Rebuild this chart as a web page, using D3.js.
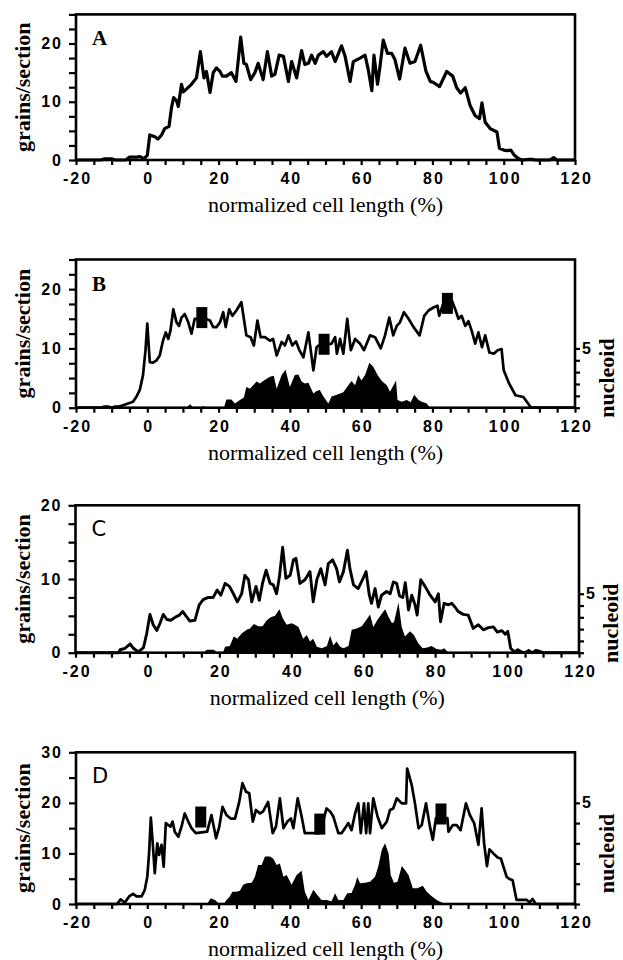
<!DOCTYPE html>
<html lang="en">
<head>
<meta charset="UTF-8">
<title>Grains per section along normalized cell length</title>
<script src="https://d3js.org/d3.v7.min.js"></script>
<style>
  body { margin: 0; background: #fff; }
  svg { display: block; }
  .tick text { font-family: 'Liberation Sans', Arial, sans-serif; font-weight: bold; font-size: 16px; letter-spacing: 2px; fill: #000; }
  .tick line { stroke: #000; stroke-width: 2.2; }
  .x-title { font-family: 'Liberation Serif', 'Times New Roman', serif; font-size: 22px; fill: #000; }
  .y-title { font-family: 'Liberation Serif', 'Times New Roman', serif; font-weight: bold; font-size: 22px; fill: #000; }
  .letter-serif { font-family: 'Liberation Serif', serif; font-weight: bold; font-size: 21px; }
  .letter-sans { font-family: 'DejaVu Sans', sans-serif; font-size: 21px; }
</style>
</head>
<body>
<svg id="chart" width="623" height="960"></svg>
<script>
// x ticks (normalized cell length, %)
const xTickLabels = [-20, 0, 20, 40, 60, 80, 100, 120];

// grains/section curves, [x %, grains]
const aGrains = [[-20,0],[-13,0],[-12,0.2],[-10,0.2],[-9,0],[-6,0],[-5,0.5],[-3,0.5],[-2,0.6],[-1,0.2],[0,0.8],[0.7,4.3],[2.1,4.0],[3,3.6],[4,4.3],[4.9,5.4],[6.1,5.8],[6.8,9.0],[7.4,10.7],[8.2,10.2],[8.7,9.2],[9.6,13.0],[10.1,11.7],[11.2,12.3],[12.4,13.0],[13.8,14.1],[14.9,18.6],[15.9,14.1],[16.6,15.2],[17.6,11.6],[18.5,15.0],[19.4,15.8],[20.4,15.2],[21.1,14.4],[22.2,14.4],[23.6,15.0],[24.9,13.5],[26.2,21.1],[27.1,16.6],[27.8,16.4],[29,13.8],[30.2,15.0],[31.1,16.6],[32.5,13.8],[33.7,18.6],[34.9,14.4],[35.8,14.7],[37,18.0],[38.2,17.8],[39.6,13.5],[40.5,16.9],[41.9,14.1],[43.3,18.8],[44.2,16.4],[45.2,16.6],[46.1,18.0],[47.1,16.6],[48,18.0],[49.4,18.6],[50.3,17.8],[51.7,18.6],[52.7,16.9],[54.5,19.6],[55.5,17.8],[56.9,13.5],[57.8,16.9],[59.7,17.5],[61.1,18.0],[62,15.5],[63,11.9],[63.6,18.0],[64.6,13.0],[65.3,16.1],[66.2,20.6],[67.4,18.3],[68.6,18.3],[69.5,17.2],[70.8,13.9],[72.3,19.2],[73.7,16.6],[75.1,16.9],[76.7,19.7],[78.2,15.2],[79.4,13.5],[80.3,13.3],[82,12.6],[84,15.2],[85.7,14.4],[86.8,12.4],[87.9,11.5],[89.2,12.4],[90.6,9.3],[92,7.6],[93.2,7.1],[93.9,9.8],[94.8,6.5],[96.2,5.4],[98.1,4.8],[98.8,2.0],[100,1.7],[101,1.6],[102,1.7],[103,0.8],[104,0.3],[105,0],[107,0.1],[108,0.1],[109,0],[113,0],[114,0.4],[115,0],[120,0]];

const bGrains = [[-20,0],[-13,0],[-12,0.2],[-11,0.2],[-10,0],[-9,0.2],[-8,0.2],[-6.8,0.4],[-5.4,0.7],[-4,1.0],[-3,1.9],[-2.1,3.0],[-1.2,5.5],[-0.5,9.7],[0,14.2],[0.7,7.7],[1.6,7.6],[2.6,8.0],[3.5,8.8],[4.4,11.3],[5.2,12.7],[5.9,11.6],[6.5,13.0],[7.3,16.6],[8.2,14.4],[8.9,13.8],[9.6,15.2],[10.5,15.8],[11.5,14.4],[12.4,12.5],[13.3,15.0],[14.5,15.0],[16.3,15.0],[17.6,14.7],[18.5,13.6],[19.4,13.6],[20.4,14.4],[21.3,16.1],[22,13.6],[23,16.6],[23.9,15.5],[25,16.4],[26.4,17.8],[27.8,12.2],[29,11.9],[29.9,10.5],[30.9,14.7],[31.8,11.9],[33,11.9],[34.4,11.3],[35.3,11.6],[36.3,8.8],[37.7,11.1],[38.6,10.5],[39.6,12.2],[40.7,10.5],[41.7,11.2],[42.6,9.8],[43.8,8.5],[45.2,12.7],[46.6,6.3],[47.5,10.2],[48.5,10.7],[51,10.7],[51.7,10.8],[52.7,11.9],[53.2,9.1],[54.1,11.6],[55,9.1],[56.1,15.0],[57.1,9.7],[58.3,11.6],[59.7,10.8],[60.8,9.7],[62.5,12.2],[63.9,11.9],[65.5,10.0],[66.7,12.2],[67.9,15.2],[69,12.2],[70,13.8],[70.9,14.4],[72,16.1],[73.3,15.0],[74.7,13.6],[76.4,12.2],[77.7,15.5],[78.9,16.4],[80.3,16.9],[81.4,17.2],[81.9,15.5],[83,17.5],[85.5,18.0],[86.4,16.6],[87.3,15.0],[88.2,15.5],[89.2,13.8],[90.1,14.6],[91,13.0],[92,10.8],[92.9,12.7],[93.9,10.2],[94.8,12.2],[96,9.3],[97.2,9.1],[98.3,9.7],[99.4,9.9],[100,6.3],[101.5,4.1],[103.3,2.1],[105.5,1.8],[107.7,0],[120,0]];

const cGrains = [[-20,0],[-8,0],[-7.6,0.4],[-6.2,0.6],[-4.8,1.2],[-3.9,0.6],[-2.5,0.1],[-1.1,0.7],[-0.2,2.6],[0.7,5.2],[1.6,3.8],[2.6,3.0],[3.5,4.0],[4.4,5.2],[5.4,4.5],[6.5,4.4],[7.7,4.8],[8.9,5.1],[9.8,5.6],[10.7,5.0],[11.8,4.3],[13.2,4.4],[14.4,6.5],[15.5,7.2],[16.9,7.5],[18.3,7.5],[19.4,8.5],[20.4,7.8],[21.6,9.4],[22.8,9.0],[23.9,8.0],[25,6.9],[26.2,8.0],[27.1,10.5],[28.1,9.9],[29,6.9],[30.2,9.0],[31.1,7.1],[32,9.4],[33,11.2],[34.1,9.4],[35,9.2],[35.9,8.0],[36.7,10.3],[37.6,14.3],[38.5,10.1],[39.7,10.5],[40.6,12.6],[41.3,12.8],[42.4,9.4],[43.8,9.9],[45.2,11.0],[46.1,6.9],[47.1,9.9],[48.2,11.4],[49.4,9.2],[50.3,12.1],[51.5,12.6],[52.6,11.4],[53.4,9.6],[54.5,11.0],[55.6,13.9],[56.3,11.4],[57.3,9.2],[58.6,8.7],[59.8,9.9],[60.8,11.0],[61.7,7.8],[62.3,6.7],[63.3,8.7],[64.2,6.2],[65.1,7.8],[66.5,8.3],[67.5,8.0],[68.4,9.6],[69.3,9.4],[70.1,7.7],[71,7.5],[71.7,9.5],[72.6,5.8],[73.5,7.8],[74.4,6.5],[75,5.1],[76,9.9],[77.2,9.0],[78.6,7.8],[80,6.9],[80.9,8.0],[81.5,4.2],[82.5,6.7],[83.7,6.5],[84.6,6.7],[85.5,6.2],[86.4,5.6],[87.8,5.2],[89.2,5.1],[90.6,3.3],[92,3.8],[93.4,3.1],[94.8,3.4],[96.2,3.5],[97.3,2.8],[98.5,3.0],[99.5,2.5],[100.2,2.9],[101,0.6],[102,0.1],[103,0.4],[104,0.1],[105,0],[106,0.3],[107,0],[108,0.3],[109,0.2],[110,0],[120,0]];

const dGrains = [[-20,0],[-8.5,0],[-7.5,0.9],[-6.3,0.3],[-5.1,1.5],[-4,2.0],[-3,1.5],[-1.6,1.5],[-0.7,2.8],[0,5.4],[0.5,10],[1,17.1],[1.6,11.3],[2.1,6.1],[2.8,12.0],[3.3,9.7],[4,11.7],[4.6,7.4],[5.2,16.0],[5.9,15.6],[6.5,15.3],[7.1,16.3],[7.7,14.3],[8.7,13.3],[9.6,15.3],[10.5,17.9],[11.5,16.3],[12.4,15.0],[13.6,14.0],[16.8,14.3],[18,17.6],[19.3,13.0],[20.2,15.3],[21.1,19.2],[22.2,17.6],[23.4,16.9],[24.6,16.9],[25.8,20.2],[26.7,23.9],[27.7,22.2],[28.6,21.9],[29.6,16.3],[30.5,18.6],[31.6,17.9],[32.5,18.3],[33.9,20.2],[35.2,14.0],[36.1,15.3],[37.2,20.9],[38.2,15.0],[39.3,16.3],[40.3,16.9],[41,15.0],[42.2,20.9],[43.3,17.3],[44.2,14.0],[46.6,14.0],[48.4,14.0],[50.3,18.9],[51.3,18.3],[52.2,17.3],[53.6,14.0],[54.5,14.0],[55.5,15.0],[56.4,16.0],[57.3,14.6],[58.3,17.9],[59.2,19.9],[59.9,14.0],[60.8,19.9],[61.4,14.0],[62,19.9],[62.5,14.0],[63.4,20.9],[64.6,17.3],[65.8,15.0],[67.2,16.3],[68.1,18.6],[69,18.9],[70,20.9],[71.4,19.9],[72.6,19.9],[72.9,26.8],[74.2,23.5],[75.1,19.9],[76.1,15.0],[77,15.6],[78.2,19.9],[79.3,15.3],[80.1,12.7],[81,17.0],[84.2,17.0],[84.5,14.3],[85.7,15.6],[86.8,15.6],[87.9,14.6],[89.4,19.9],[90.5,17.6],[91.7,16.0],[92.9,11.7],[93.8,18.9],[94.5,12.0],[95.3,7.5],[96,10.8],[97.1,10.0],[98.3,9.2],[99.2,9.0],[100.8,5.4],[101.5,5.0],[102.5,4.7],[103.6,0.8],[106.5,0.8],[107.3,0.3],[108.1,1.0],[109,0],[120,0]];

// nucleoid profiles (right axis units), [x %, nucleoid]
const bNucleoid = [[-20,0],[11,0],[12,0.3],[13,0],[15,0],[15.7,0.15],[16.5,0],[21.5,0],[22.2,0.7],[23.6,0.7],[24.6,0.35],[26,0.65],[27.1,0.85],[27.8,1.75],[28.8,1.6],[29.7,1.9],[30.7,2.2],[31.6,2.05],[32.5,2.25],[33.5,2.45],[34.4,2.6],[35.5,2.7],[36.3,1.6],[37.7,2.75],[38.8,3.2],[40,1.75],[41.4,2.75],[42.4,2.8],[43.3,2.2],[44.2,2.05],[45.2,2.1],[46.6,1.2],[47.5,1.4],[48.4,1.5],[49.4,0.95],[50.8,0.35],[51.7,0.95],[53.2,1.1],[55,1.3],[56.4,1.9],[57.3,2.25],[58.3,1.9],[59.2,2.75],[60.1,2.3],[61.1,2.75],[62.3,3.8],[63.4,3.45],[64.6,2.75],[65.8,2.25],[67.2,1.9],[68.1,1.35],[69.8,2.3],[70.2,0.65],[71.4,0.5],[72.8,0.65],[73.9,0.45],[74.9,1.1],[76.1,0.65],[77,0.5],[78.4,0.35],[79.3,0],[84,0],[84.5,0.05],[85,0],[120,0]];

const cNucleoid = [[-20,0],[15.5,0],[16.5,0.25],[18.5,0.25],[19.5,0],[21,0],[21.6,0.5],[22.9,0.56],[24,1.38],[25,1.19],[26.2,1.63],[27.6,1.94],[28.5,2.06],[29.6,2.44],[30.8,2.25],[32,2.25],[33.2,2.75],[34.3,3.0],[35.5,3.13],[36.7,3.69],[37.6,2.94],[38.7,2.38],[40.1,2.5],[41,2.38],[42,2.19],[43.3,1.19],[44.3,1.5],[45.2,0.94],[46.1,1.19],[47.1,0.5],[48.5,0.38],[49.9,0.56],[50.8,1.44],[51.7,0.63],[52.6,0.94],[53.6,0.5],[54.5,0.38],[55.9,0.56],[56.8,1.94],[58.2,2.06],[59.6,2.25],[60.8,2.75],[61.9,3.25],[62.8,2.19],[63.9,2.75],[64.9,3.19],[66.1,3.69],[67,3.06],[68,2.5],[68.6,2.63],[69.8,4.25],[70.7,2.19],[71.6,1.38],[73,1.81],[74.1,1.5],[75.3,0.81],[76.5,0.38],[77.8,0.44],[79,0.56],[80.4,0.31],[81.8,0.25],[82.5,0.38],[83.7,0],[120,0]];

const dNucleoid = [[-20,0],[16.8,0],[17.8,0.28],[19,0.2],[19.9,0.05],[21.5,0],[22.2,0.2],[23,0.33],[23.9,0.6],[25,0.6],[26,0.65],[26.9,0.95],[27.9,1.03],[29.3,1.05],[30.2,1.35],[31.1,1.93],[32.1,1.93],[33,2.35],[34.4,2.35],[35.3,2.25],[36.3,1.93],[37.2,2.0],[38.2,1.35],[39.1,1.43],[40.5,0.95],[41.9,1.43],[43.3,1.65],[44.2,0.6],[45.2,0.2],[46.6,0.7],[47.7,0.45],[48.9,0.2],[50.3,0.2],[51.7,0.13],[52.7,0.53],[53.6,0.2],[55,0.2],[56.1,0.53],[57.3,0.55],[58.3,0.95],[58.9,1.33],[59.7,1.03],[61.1,1.05],[62.5,1.1],[63.9,1.35],[64.8,1.85],[65.8,2.68],[66.7,3.0],[67.7,2.5],[68.3,1.43],[69.2,1.05],[70.2,1.1],[71.4,1.88],[72.3,1.68],[73.3,1.43],[74.5,0.78],[75.8,0.78],[77.3,0.9],[78.4,0.6],[79.8,0.38],[81.2,0.2],[82.6,0.08],[84,0],[120,0]];

// block markers on the curves, [x %, grains]
const bMarkers = [[15.3,15.2],[49.6,10.7],[84.2,17.6]];
const dMarkers = [[15.0,17.2],[48.4,15.8],[82.4,17.8]];

// y axes
const grainsMax = { A: 25, B: 25, C: 20, D: 30 };
const grainsTickStep = { A: 2.5, B: 2.5, C: 2.5, D: 5 };
const grainsTickLabels = { A: [0, 10, 20], B: [0, 10, 20], C: [0, 10, 20], D: [0, 10, 20, 30] };
const nucleoidMax = { B: 12.5, C: 12.5, D: 7.5 };
const nucleoidTickLabels = [5];

const svg = d3.select('#chart');

function drawPanel(p) {
  const x = d3.scaleLinear().domain([-20, 120]).range([p.left, p.right]);
  const y = d3.scaleLinear().domain([0, grainsMax[p.id]]).range([p.bottom, p.top]);
  const g = svg.append('g');

  // nucleoid fill first, so the grain curve sits on top
  if (p.nucleoid) {
    const yn = d3.scaleLinear().domain([0, nucleoidMax[p.id]]).range([p.bottom, p.top]);
    g.append('path')
      .datum(p.nucleoid)
      .attr('d', d3.area().x(d => x(d[0])).y0(yn(0)).y1(d => yn(d[1])))
      .attr('fill', '#000');

    const right = g.append('g')
      .attr('transform', `translate(${p.right},0)`)
      .call(d3.axisRight(yn)
        .tickValues(d3.range(0, 5.01, 1))
        .tickSize(5)
        .tickPadding(2)
        .tickFormat(d => nucleoidTickLabels.includes(d) ? d : ''));
    right.select('.domain').remove();

    g.append('text')
      .attr('class', 'y-title')
      .attr('transform', `translate(${p.right + 31},${(yn(0) + yn(5)) / 2}) rotate(-90)`)
      .attr('text-anchor', 'middle')
      .attr('dominant-baseline', 'central')
      .text('nucleoid');
  }

  g.append('path')
    .datum(p.grains)
    .attr('d', d3.line().x(d => x(d[0])).y(d => y(d[1])))
    .attr('fill', 'none')
    .attr('stroke', '#000')
    .attr('stroke-width', p.lineWidth)
    .attr('stroke-linejoin', 'round');

  if (p.markers) {
    g.selectAll('rect.marker')
      .data(p.markers)
      .join('rect')
      .attr('class', 'marker')
      .attr('x', d => x(d[0]) - 5.5)
      .attr('y', d => y(d[1]) - 10.5)
      .attr('width', 11)
      .attr('height', 21)
      .attr('fill', '#000');
  }

  // frame
  g.append('rect')
    .attr('x', p.left).attr('y', p.top)
    .attr('width', p.right - p.left).attr('height', p.bottom - p.top)
    .attr('fill', 'none').attr('stroke', '#000').attr('stroke-width', 2.6);

  const bottom = g.append('g')
    .attr('transform', `translate(0,${p.bottom})`)
    .call(d3.axisBottom(x)
      .tickValues(d3.range(-20, 120.1, 5))
      .tickSize(5)
      .tickPadding(8)
      .tickFormat(d => xTickLabels.includes(d) ? d : ''));
  bottom.select('.domain').remove();
  bottom.selectAll('.tick text').attr('dx', '1px');

  const left = g.append('g')
    .attr('transform', `translate(${p.left},0)`)
    .call(d3.axisLeft(y)
      .tickValues(d3.range(0, grainsMax[p.id] + 0.01, grainsTickStep[p.id]))
      .tickSize(7)
      .tickPadding(6)
      .tickFormat(d => grainsTickLabels[p.id].includes(d) ? d : ''));
  left.select('.domain').remove();

  g.append('text')
    .attr('class', 'x-title')
    .attr('x', (p.left + p.right) / 2)
    .attr('y', p.bottom + 52)
    .attr('text-anchor', 'middle')
    .text('normalized cell length (%)');

  g.append('text')
    .attr('class', 'y-title')
    .attr('transform', `translate(22,${(p.top + p.bottom) / 2}) rotate(-90)`)
    .attr('text-anchor', 'middle')
    .attr('dominant-baseline', 'central')
    .text('grains/section');

  g.append('text')
    .attr('class', p.letterClass)
    .attr('x', p.left + 16)
    .attr('y', p.top + 31)
    .text(p.id);
}

drawPanel({ id: 'A', grains: aGrains, left: 76, right: 575, top: 14.4, bottom: 160, lineWidth: 3.2, letterClass: 'letter-serif' });
drawPanel({ id: 'B', grains: bGrains, nucleoid: bNucleoid, markers: bMarkers, left: 76, right: 575, top: 259.5, bottom: 407.7, lineWidth: 2.7, letterClass: 'letter-serif' });
drawPanel({ id: 'C', grains: cGrains, nucleoid: cNucleoid, left: 75.5, right: 579, top: 505.3, bottom: 652.7, lineWidth: 2.9, letterClass: 'letter-sans' });
drawPanel({ id: 'D', grains: dGrains, nucleoid: dNucleoid, markers: dMarkers, left: 76, right: 575, top: 752.3, bottom: 904, lineWidth: 2.7, letterClass: 'letter-sans' });
</script>
</body>
</html>
